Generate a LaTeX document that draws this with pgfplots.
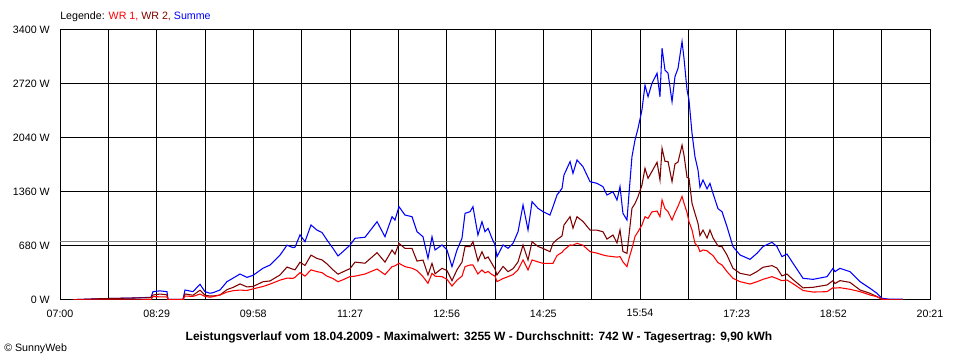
\documentclass[border=0pt]{standalone}
\usepackage{pgfplots}
\pgfplotsset{compat=1.18}
\usepackage{pgfplotstable}
\usepackage{fontspec}
\setmainfont{Liberation Sans}
\definecolor{wrone}{RGB}{255,0,0}
\definecolor{wrtwo}{RGB}{128,0,0}
\definecolor{summe}{RGB}{0,0,255}
\definecolor{avg}{RGB}{128,128,128}

% t = minutes after 07:00; sum, wr1, wr2 in W
\pgfplotstableread{
t sum wr1 wr2
11.97 4 0 4
36.83 16 0 16
67.21 25 0 25
83.78 34 5 29
85.62 105 42 63
92.07 115 40 75
98.51 105 40 65
99.43 9 3 6
113.24 9 3 6
115.09 126 50 76
122.45 105 45 60
128.90 198 75 123
133.50 105 45 60
138.10 85 35 50
140.87 92 42 50
147.31 126 63 63
153.76 231 100 131
159.28 275 117 158
165.72 327 125 202
172.17 285 120 165
177.69 310 140 170
186.90 400 170 230
193.34 440 200 240
202.55 565 250 315
209.00 690 275 415
214.52 660 273 387
216.36 665 285 380
220.97 820 345 475
225.57 735 300 435
231.09 945 380 565
236.62 880 357 523
241.22 850 345 505
245.82 755 300 455
251.35 650 270 380
255.95 555 230 325
260.56 610 255 355
267.0 690 295 395
271.6 777 300 477
280.8 790 327 463
291.9 986 390 596
299.2 797 320 477
305.7 1049 420 629
308.4 1007 430 577
312.1 1175 462 713
317.6 1070 420 650
324.1 1049 400 649
328.7 860 370 490
334.2 797 294 503
338.8 525 210 315
342.5 797 336 461
345.3 630 300 330
351.7 693 294 399
356.3 630 260 370
360.9 420 176 244
365.5 630 250 380
370.1 777 300 477
372.9 1091 420 671
377.5 1112 441 671
380.2 1175 441 734
384.8 818 327 491
388.5 986 378 608
391.3 860 340 520
394.1 902 360 542
397.7 777 320 457
400.5 693 302 391
402.3 546 231 315
407.9 693 270 423
412.5 651 294 357
417.1 714 320 394
421.7 860 380 480
426.3 1196 504 692
430.9 881 378 503
434.6 1238 504 734
440.1 1154 480 674
444.7 1112 462 650
451.1 1070 462 608
453.9 1175 462 713
457.6 1322 560 762
462.2 1406 600 806
464.0 1574 630 944
469.6 1742 693 1049
472.3 1595 690 905
476.0 1763 714 1049
481.5 1679 690 989
488.0 1490 609 881
494.4 1469 590 879
499.9 1427 567 860
503.6 1322 555 767
509.1 1364 546 818
512.8 1259 540 719
515.6 1427 546 881
518.3 1091 480 611
522.0 1007 420 587
523.9 1343 525 818
526.6 1805 650 1155
529.4 2015 800 1215
532.2 2162 860 1302
535.8 2393 945 1448
538.6 2707 1049 1658
541.4 2560 1028 1532
545.0 2729 1110 1619
549.7 2855 1120 1735
552.4 2560 1049 1511
554.3 3170 1259 1911
557.0 2896 1150 1746
559.8 2855 1112 1743
563.5 2497 1007 1490
566.2 2813 1100 1713
569.0 2917 1180 1737
572.7 3255 1305 1950
574.5 3044 1220 1824
577.3 2645 1100 1545
579.1 2519 986 1533
581.9 2099 882 1217
584.6 1805 714 1091
587.4 1637 672 965
589.2 1420 609 811
592.0 1511 630 881
595.7 1400 620 780
598.4 1469 588 881
601.2 1343 560 783
605.8 1150 470 680
609.5 1112 441 671
614.1 923 357 566
619.6 672 273 399
626.1 567 231 336
635.3 512 201 311
641.7 588 230 358
647.2 672 260 412
655.5 727 294 433
660.1 672 270 402
664.7 546 243 303
669.3 579 252 327
674.9 462 205 257
684.1 273 120 153
693.3 260 100 160
706.2 294 105 189
711.7 399 155 244
713.5 357 150 207
718.1 399 155 244
727.3 357 135 222
736.6 231 105 126
745.8 147 63 84
752.2 84 42 42
756.8 21 9 12
764.2 10 0 0
776.1 10 0 0
}\datatable

\begin{document}
\begin{tikzpicture}[font=\fontsize{8}{9.6}\selectfont]
\path[use as bounding box, fill=white] (0,0) rectangle (720pt,270pt);
\begin{axis}[
  at={(45pt,45pt)}, anchor=south west,
  scale only axis, width=652.5pt, height=202.5pt,
  xmin=0, xmax=801, ymin=0, ymax=3400,
  xtick={0,44.5,89,133.5,178,222.5,267,311.5,356,400.5,445,489.5,534,578.5,623,667.5,712,756.5,801},
  xticklabels={\textnormal{07:00},,\textnormal{08:29},,\textnormal{09:58},,\textnormal{11:27},,\textnormal{12:56},,\textnormal{14:25},,\textnormal{15:54},,\textnormal{17:23},,\textnormal{18:52},,\textnormal{20:21}},
  ytick={0,680,1360,2040,2720,3400},
  yticklabels={\textnormal{0 W},\textnormal{680 W},\textnormal{1360 W},\textnormal{2040 W},\textnormal{2720 W},\textnormal{3400 W}},
  major tick length=0pt,
  grid=major,
  major grid style={black, line width=0.75pt},
  axis line style={black, line width=0.75pt},
  tick label style={font=\fontsize{8}{9.6}\selectfont},
  xticklabel style={inner sep=0pt, anchor=north, yshift=-7pt},
  yticklabel style={inner sep=0pt, anchor=east, xshift=-7.5pt},
  /pgf/number format/assume math mode=true,
]
\addplot[avg, line width=0.75pt] coordinates {(0,742) (801,742)};
\addplot[summe, line width=0.8pt] table[x=t, y=sum] {\datatable};
\addplot[wrtwo, line width=0.8pt] table[x=t, y=wr2] {\datatable};
\addplot[wrone, line width=0.8pt] table[x=t, y=wr1] {\datatable};
\end{axis}
\node[anchor=west, inner sep=0pt] at (45pt,257.25pt) {Legende: \textcolor{wrone}{WR 1,} \textcolor{wrtwo}{WR 2,} \textcolor{summe}{Summe}};
\node[inner sep=0pt, font=\fontsize{9}{10.8}\selectfont\bfseries] at (359.25pt,17pt) {Leistungsverlauf vom 18.04.2009 - Maximalwert: 3255 W - Durchschnitt: 742 W - Tagesertrag: 9,90 kWh};
\node[anchor=west, inner sep=0pt] at (3pt,8.5pt) {\textcopyright\ SunnyWeb};
\end{tikzpicture}
\end{document}
